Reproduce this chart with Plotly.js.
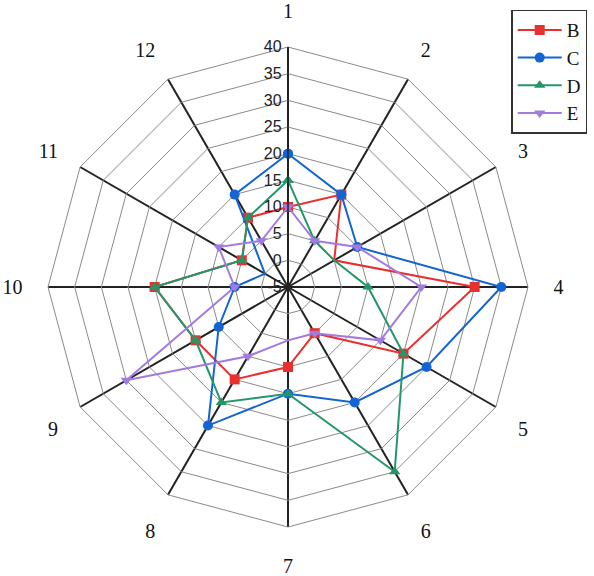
<!DOCTYPE html>
<html>
<head>
<meta charset="utf-8">
<script src="https://cdn.plot.ly/plotly-3.0.1.min.js"></script>
<style>html,body{margin:0;padding:0;background:#fff;}#chart{width:594px;height:576px;}</style>
</head>
<body>
<div id="chart"></div>
<script>
const categories = ['1','2','3','4','5','6','7','8','9','10','11','12'];
const seriesB = [10,15,5,30,20,5,10,15,15,20,5,10];
const seriesC = [20,15,10,35,25,20,15,25,10,5,0,15];
const seriesD = [15,5,5,10,20,35,15,20,15,20,5,10];
const seriesE = [10,5,10,20,15,5,5,10,30,5,10,5];
const radialTicks = [-5,0,5,10,15,20,25,30,35,40];

function closeLoop(a){ return a.concat([a[0]]); }

const specs = [
  {name:'B', data:seriesB, color:'#e8312f', symbol:'square'},
  {name:'C', data:seriesC, color:'#1464d4', symbol:'circle'},
  {name:'D', data:seriesD, color:'#24976a', symbol:'triangle-up'},
  {name:'E', data:seriesE, color:'#a27ae0', symbol:'triangle-down'}
];

const traces = specs.map(s => ({
  type:'scatterpolar',
  mode:'lines+markers',
  name:s.name,
  r:closeLoop(s.data),
  theta:closeLoop(categories),
  line:{color:s.color, width:2},
  marker:{color:s.color, symbol:s.symbol, size:10}
}));

const layout = {
  width:594, height:576,
  margin:{l:48, r:66, t:47, b:49, autoexpand:false},
  paper_bgcolor:'#fff',
  showlegend:true,
  legend:{
    x:0.965, y:1.078, xanchor:'left', yanchor:'top',
    bordercolor:'#333', borderwidth:1.5,
    font:{family:'Liberation Serif, Times New Roman, serif', size:19, color:'#111'},
    itemwidth:44, tracegroupgap:0
  },
  polar:{
    bgcolor:'#fff',
    gridshape:'linear',
    domain:{x:[0,1], y:[0,1]},
    radialaxis:{
      range:[-5,40],
      tickvals:radialTicks,
      ticktext:radialTicks.map(String),
      angle:90,
      tickangle:90,
      side:'counterclockwise',
      showline:true, linecolor:'#222', linewidth:1.5,
      gridcolor:'#8a8a8a', gridwidth:1,
      ticks:'',
      tickfont:{family:'Liberation Sans, Arial, sans-serif', size:16, color:'#222'}
    },
    angularaxis:{
      type:'category',
      direction:'clockwise',
      rotation:90,
      categoryorder:'array',
      categoryarray:categories,
      showline:true, linecolor:'#8a8a8a', linewidth:1,
      gridcolor:'#222', gridwidth:1.5,
      ticks:'outside', ticklen:21, tickcolor:'rgba(0,0,0,0)',
      tickfont:{family:'Liberation Serif, Times New Roman, serif', size:20, color:'#111'}
    }
  }
};

Plotly.newPlot('chart', traces, layout, {displayModeBar:false});
</script>
</body>
</html>
